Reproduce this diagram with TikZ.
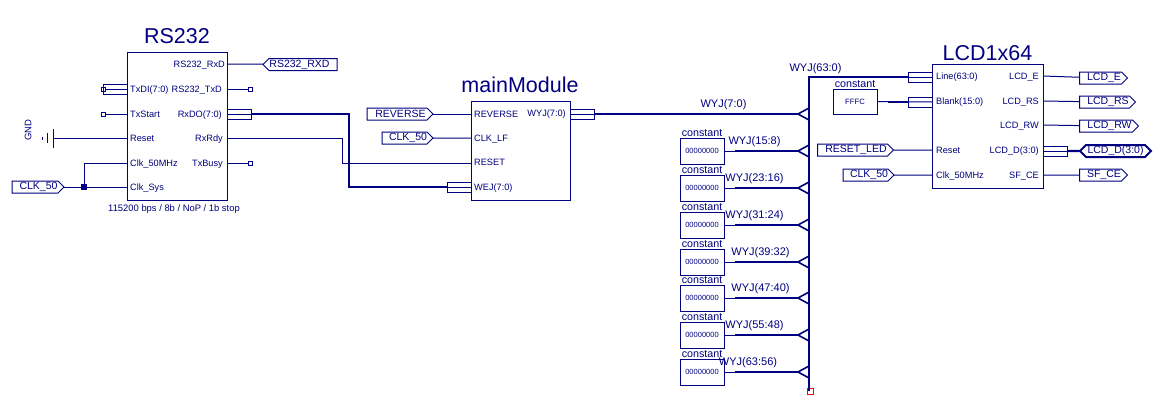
\documentclass[tikz,border=0pt]{standalone}
\usepackage{fontspec}
\setmainfont{Liberation Sans}
\usepackage{xcolor}
\usetikzlibrary{shapes.symbols}
\definecolor{sch}{HTML}{000080}
\newcommand{\wyjrow}[4]{%
  \node[conbox] (con#1) at (702,#2) {00000000};
  \coordinate (rip#1) at (798,#2);
  \draw[wire] (con#1) -- (rip#1);
  \draw[bus] (rip#1) -- ++(-63,0);
  \draw[ripper] (rip#1) ++(11,-6) -- (rip#1) -- ++(11,6);
  \node[netlbl] (lbl#1) at (#3,#2-9) {#4};
}

\begin{document}
\begin{tikzpicture}[
  x=1pt, y=-1pt, sch, text=sch,
  block/.style={draw, line width=1pt, inner sep=0, outer sep=0},
  title/.style={inner sep=0, font=\fontsize{21.5}{22}\selectfont},
  pinl/.style={inner sep=0, anchor=west, text height=7, text depth=0, font=\fontsize{9.2}{10}\selectfont},
  pinr/.style={inner sep=0, anchor=east, text height=7, text depth=0, font=\fontsize{9.2}{10}\selectfont},
  wire/.style={line width=1pt},
  bus/.style={line width=2.2pt},
  ripper/.style={line width=1.6pt},
  stub/.style={draw, line width=1pt, minimum width=24, minimum height=10, inner sep=0, outer sep=0},
  endpt/.style={draw, line width=1pt, minimum size=4, inner sep=0, outer sep=0},
  tagbase/.style={draw, line width=1pt, shape=signal, signal from=nowhere, minimum height=12, inner sep=0, outer sep=0, font=\fontsize{10.5}{11}\selectfont},
  tag/.style={tagbase, signal to=east, execute at begin node={\hspace*{7pt}}},
  tagl/.style={tagbase, signal to=west, execute at end node={\hspace*{7pt}}},
  netlbl/.style={inner sep=0, font=\fontsize{11}{12}\selectfont},
  conbox/.style={block, minimum width=44, minimum height=26, font=\fontsize{7.5}{8}\selectfont,
    label={[inner sep=0, label distance=1.5, font=\fontsize{10.7}{11}\selectfont]above:constant}}
]
\useasboundingbox (0,0) rectangle (1163,416);

% RS232 block
\node[block, minimum width=100, minimum height=148] (rs) at (177,126) {};
\node[title] (rsTitle) at (177,36) {RS232};
\node[inner sep=0, font=\fontsize{9.4}{10}\selectfont] (rsNote) at (174,209) {115200 bps / 8b / NoP / 1b stop};
\node[pinr] (rsRxD) at (225,64) {RS232\_RxD};
\node[pinl] (rsTxDI) at (130,89) {TxDI(7:0)};
\node[pinr] (rsTxD) at (222,89) {RS232\_TxD};
\node[pinl] (rsTxStart) at (130,114) {TxStart};
\node[pinr] (rsRxDO) at (222,114) {RxDO(7:0)};
\node[pinl] (rsReset) at (130,138) {Reset};
\node[pinr] (rsRxRdy) at (223,138) {RxRdy};
\node[pinl] (rsClk) at (130,163) {Clk\_50MHz};
\node[pinr] (rsTxBusy) at (223,163) {TxBusy};
\node[pinl] (rsSys) at (130,187) {Clk\_Sys};

\node[tagl, minimum width=74] (tagRxd) at (303,64.5) {RS232\_RXD};
\node[tag, minimum width=52] (tagClkA) at (35,187) {CLK\_50};
\node[stub] (stubTxDI) at (115,89) {};
\node[stub] (stubRxDO) at (239,114) {};
\node[endpt] (endTxDI) at (103,89) {};
\node[endpt] (endTxStart) at (103,114) {};
\node[endpt] (endTxD) at (250,89) {};
\node[endpt] (endTxBusy) at (250,163) {};
\node[draw, fill=sch, minimum size=5, inner sep=0] (junClk) at (84,187) {};
\node[rotate=90, inner sep=0, font=\fontsize{9.5}{10}\selectfont] (gndLbl) at (28,130) {GND};
\coordinate (gnd) at (53,138);

\draw[wire] (rsRxD -| rs.east) -- (tagRxd);
\draw[wire] (stubTxDI.east) -- (endTxDI);
\draw[wire] (endTxStart) -- (rsTxStart -| rs.west);
\draw[wire] (rsTxD -| rs.east) -- (endTxD);
\draw[wire] (stubRxDO.west) -- (stubRxDO.east);
\draw[wire] (rsTxBusy -| rs.east) -- (endTxBusy);
\draw[wire] (gnd) -- (rsReset -| rs.west);
\draw[wire] (gnd) ++(0,-9) -- ++(0,19);
\draw[wire] (gnd) ++(-6,-5) -- ++(0,10);
\draw[wire] (gnd) ++(-11,-1.5) -- ++(0,3);
\draw[wire] (tagClkA) -- (rsSys -| rs.west);
\draw[wire] (junClk) |- (rsClk -| rs.west);

% mainModule block
\node[block, minimum width=99, minimum height=99] (mm) at (520.5,150.5) {};
\node[title] (mmTitle) at (520,85) {mainModule};
\node[pinl] (mmRev) at (474,114) {REVERSE};
\node[pinr] (mmWyj) at (566,113) {WYJ(7:0)};
\node[pinl] (mmClk) at (474,138) {CLK\_LF};
\node[pinl] (mmRst) at (474,162) {RESET};
\node[pinl] (mmWej) at (474,187) {WEJ(7:0)};
\node[tag, minimum width=66] (tagRev) at (397,114) {REVERSE};
\node[tag, minimum width=50] (tagClkB) at (404.5,138) {CLK\_50};
\node[stub] (stubWej) at (459,187) {};
\node[stub] (stubWyj) at (582,114) {};
\coordinate (rxRdyA) at (342,138);
\coordinate (rxRdyB) at (342,163);
\coordinate (rxBusA) at (349,114);
\coordinate (rxBusB) at (349,187);

\draw[wire] (tagRev) -- (mmRev -| mm.west);
\draw[wire] (tagClkB) -- (mmClk -| mm.west);
\draw[wire] (rsRxRdy -| rs.east) -- (rxRdyA) -- (rxRdyB) -- (mm.west |- rxRdyB);
\draw[wire] (stubWej.west) -- (stubWej.east);
\draw[wire] (stubWyj.west) -- (stubWyj.east);
\draw[bus] (stubRxDO.east) -- (rxBusA) -- (rxBusB) -- (stubWej.west);

% WYJ(63:0) bus and its constants
\node[stub] (stubLine) at (920,77) {};
\coordinate (busTop) at (809,77);
\node[draw=red, line width=1pt, minimum size=6, inner sep=0] (busEnd) at (810,391) {};
\draw[bus] (stubLine.west) -- (busTop) -- (busTop |- busEnd);
\node[netlbl] (lblBus) at (815.5,69) {WYJ(63:0)};

\coordinate (ripA) at (798,114);
\draw[bus] (stubWyj.east) -- (ripA);
\draw[ripper] (ripA) ++(11,-6) -- (ripA) -- ++(11,6);
\node[netlbl] (lblA) at (723.5,105) {WYJ(7:0)};

\wyjrow{B}{151}{754.5}{WYJ(15:8)}
\wyjrow{C}{188}{754.5}{WYJ(23:16)}
\wyjrow{D}{225}{754.5}{WYJ(31:24)}
\wyjrow{E}{262}{760.5}{WYJ(39:32)}
\wyjrow{F}{298}{760.5}{WYJ(47:40)}
\wyjrow{G}{335}{754.5}{WYJ(55:48)}
\wyjrow{H}{372}{748}{WYJ(63:56)}

% LCD1x64 block
\node[block, minimum width=111, minimum height=124] (lcd) at (987.5,126) {};
\node[title] (lcdTitle) at (987.5,53) {LCD1x64};
\node[pinl] (lcdLine) at (936,76) {Line(63:0)};
\node[pinr] (lcdE) at (1039,76) {LCD\_E};
\node[pinl] (lcdBlank) at (936,101) {Blank(15:0)};
\node[pinr] (lcdRS) at (1039,101) {LCD\_RS};
\node[pinr] (lcdRW) at (1039,125) {LCD\_RW};
\node[pinl] (lcdRst) at (936,150) {Reset};
\node[pinr] (lcdD) at (1039,150) {LCD\_D(3:0)};
\node[pinl] (lcdClk) at (936,175) {Clk\_50MHz};
\node[pinr] (lcdCE) at (1039,175) {SF\_CE};

\node[block, minimum width=44, minimum height=25, font=\fontsize{7.7}{8}\selectfont,
  label={[inner sep=0, label distance=1.5, font=\fontsize{10.7}{11}\selectfont]above:constant}] (conF) at (855,101.5) {FFFC};
\node[stub] (stubBlank) at (920,102) {};
\node[stub] (stubD) at (1055,151) {};
\coordinate (blankBus) at (888,102);
\node[tag, minimum width=76] (tagRst) at (852.5,150) {RESET\_LED};
\node[tag, minimum width=50] (tagClkC) at (865.5,175) {CLK\_50};
\node[tag, minimum width=48] (tagE) at (1100.5,78) {LCD\_E};
\node[tag, minimum width=56] (tagRS) at (1104.5,102) {LCD\_RS};
\node[tag, minimum width=59] (tagRW) at (1106,126) {LCD\_RW};
\node[tagbase, line width=2pt, signal to=east and west, minimum width=71] (tagD) at (1115.5,151) {LCD\_D(3:0)};
\node[tag, minimum width=48] (tagCE) at (1100.5,175) {SF\_CE};

\draw[wire] (stubLine.west) -- (stubLine.east);
\draw[wire] (conF) -- (stubBlank.east);
\draw[bus] (blankBus) -- (stubBlank.west);
\draw[wire] (tagRst) -- (lcdRst -| lcd.west);
\draw[wire] (tagClkC) -- (lcdClk -| lcd.west);
\draw[wire] (lcdE -| lcd.east) -- (tagE);
\draw[wire] (lcdRS -| lcd.east) -- (tagRS);
\draw[wire] (lcdRW -| lcd.east) -- (tagRW);
\draw[wire] (stubD.west) -- (stubD.east);
\draw[bus] (stubD.east) -- (tagD);
\draw[wire] (lcdCE -| lcd.east) -- (tagCE);
\end{tikzpicture}
\end{document}
